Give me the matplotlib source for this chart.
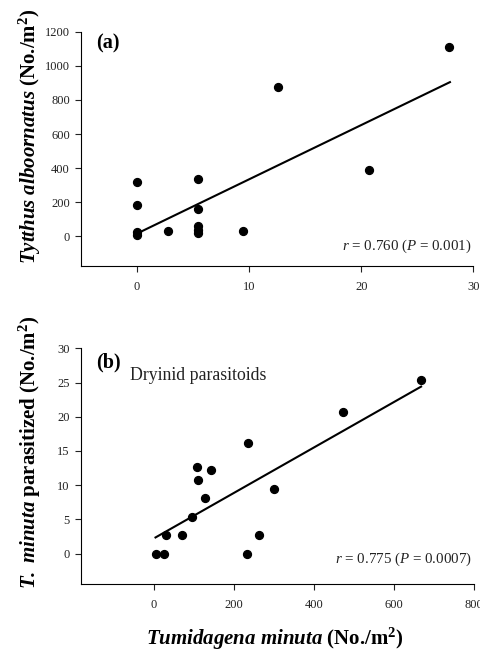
import numpy as np
import matplotlib.pyplot as plt

plt.rcParams["font.family"] = ["Liberation Serif", "DejaVu Serif"]
plt.rcParams["mathtext.fontset"] = "custom"
plt.rcParams["mathtext.rm"] = "Liberation Serif"
plt.rcParams["mathtext.it"] = "Liberation Serif:italic"
plt.rcParams["mathtext.bf"] = "Liberation Serif:bold"
plt.rcParams["mathtext.bfit"] = "Liberation Serif:italic:bold"

# Panel (a): Tytthus alboornatus vs Tumidagena minuta
a_x = [0, 0, 0, 0, 2.75, 5.4, 5.4, 5.4, 5.4, 5.4, 9.45, 12.6, 20.7, 27.85]
a_y = [320, 184, 22, 6, 31, 333, 161, 59, 35, 16, 29, 875, 386, 1112]
a_fit_x = [0, 27.9]
a_fit_y = [15, 905]

# Panel (b): T. minuta parasitized vs Tumidagena minuta
b_x = [5, 25, 30, 71, 95, 108, 110, 128, 143, 235, 233, 264, 300, 473, 667]
b_y = [0, 0, 2.73, 2.73, 5.4, 12.6, 10.8, 8.1, 12.2, 16.2, 0, 2.73, 9.5, 20.7, 25.3]
b_fit_x = [5, 668]
b_fit_y = [2.35, 24.4]

fig = plt.figure(figsize=(4.81, 6.52), dpi=100)
ax1 = fig.add_axes([0.1684, 0.592, 0.816, 0.359])
ax2 = fig.add_axes([0.1684, 0.1038, 0.817, 0.362])

for ax in (ax1, ax2):
    ax.spines["top"].set_visible(False)
    ax.spines["right"].set_visible(False)
    ax.spines["left"].set_linewidth(0.8)
    ax.spines["bottom"].set_linewidth(0.8)
    ax.tick_params(direction="out", length=4, width=0.8, labelsize=9, pad=4,
                   colors="#222222")
    ax.tick_params(axis="x", pad=6.5)
    ax.patch.set_visible(False)

# (a)
ax1.scatter(a_x, a_y, s=32, color="black", zorder=3)
ax1.plot(a_fit_x, a_fit_y, color="black", lw=1.5)
ax1.set_xlim(-5, 30)
ax1.set_ylim(-176, 1200)
ax1.set_xticks([0, 10, 20, 30])
ax1.set_yticks([0, 200, 400, 600, 800, 1000, 1200])
ax1.text(0.038, 0.95, "(a)", transform=ax1.transAxes, fontsize=14.5,
         fontweight="bold", va="center", ha="left")
ax1.text(0.995, 0.082, r"$r$ = 0.760 ($P$ = 0.001)", transform=ax1.transAxes,
         fontsize=10.8, ha="right", va="center", color="#222222")

# (b)
ax2.scatter(b_x, b_y, s=32, color="black", zorder=3)
ax2.plot(b_fit_x, b_fit_y, color="black", lw=1.5)
ax2.set_xlim(-181, 800)
ax2.set_ylim(-4.5, 30)
ax2.set_xticks([0, 200, 400, 600, 800])
ax2.set_yticks([0, 5, 10, 15, 20, 25, 30])
ax2.text(0.038, 0.94, "(b)", transform=ax2.transAxes, fontsize=14.5,
         fontweight="bold", va="center", ha="left")
ax2.text(0.125, 0.885, "Dryinid parasitoids", transform=ax2.transAxes,
         fontsize=12.8, ha="left", va="center", color="#222222")
ax2.text(0.995, 0.107, r"$r$ = 0.775 ($P$ = 0.0007)", transform=ax2.transAxes,
         fontsize=10.8, ha="right", va="center", color="#222222")

# axis labels
fig.text(30 / 481, 1 - 136 / 652, r"$\mathbfit{Tytthus\ alboornatus}$ (No./m$^{\mathbf{2}}$)",
         rotation=90, fontsize=15, fontweight="bold", ha="center", va="center")
fig.text(30 / 481, 1 - 452 / 652, r"$\mathbfit{T.\ minuta}$ parasitized (No./m$^{\mathbf{2}}$)",
         rotation=90, fontsize=15, fontweight="bold", ha="center", va="center")
fig.text(275 / 481, 1 - 639 / 652, r"$\mathbfit{Tumidagena\ minuta}$ (No./m$^{\mathbf{2}}$)",
         fontsize=15, fontweight="bold", ha="center", va="center")

plt.savefig("out.png", dpi=100)
